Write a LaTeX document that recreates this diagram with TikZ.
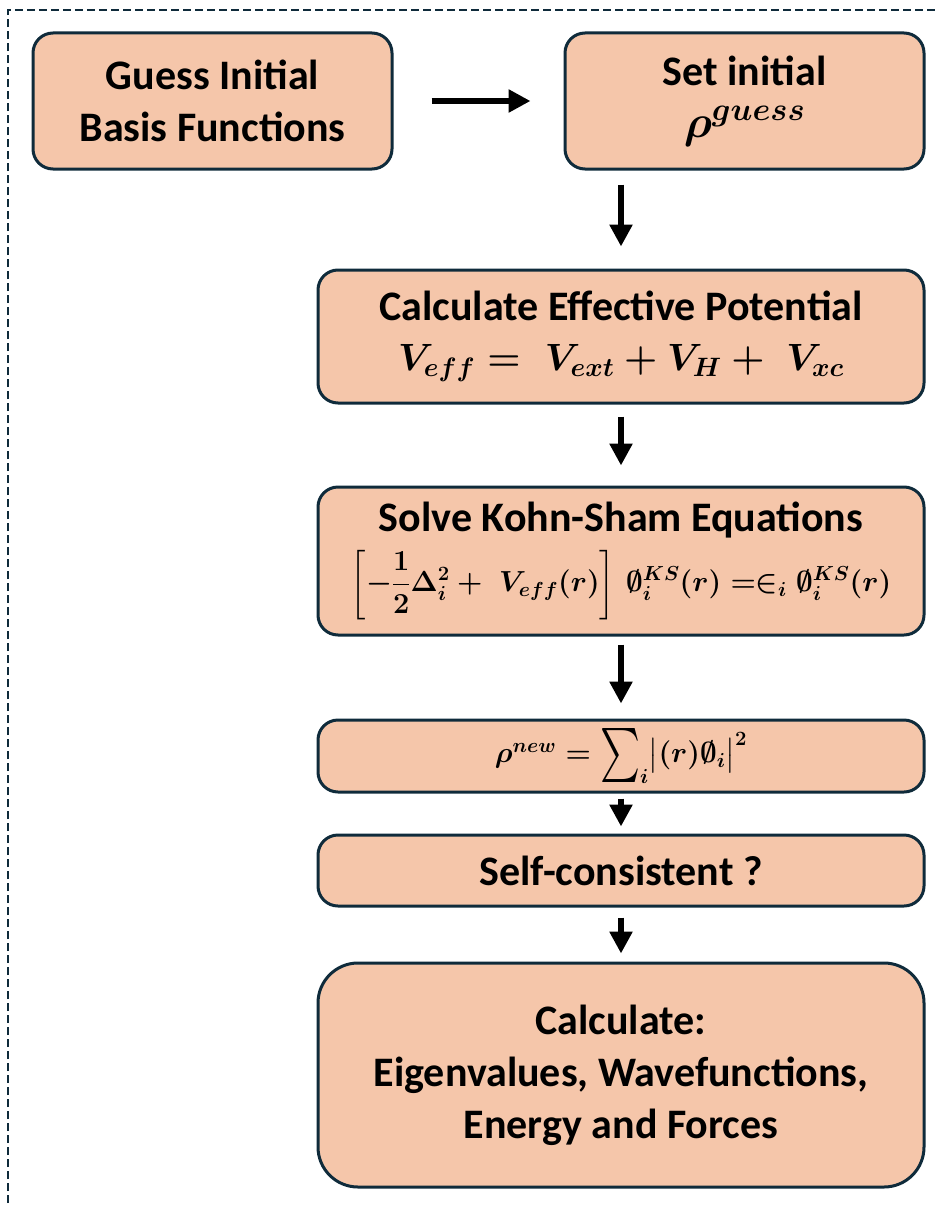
\RequirePackage{fix-cm}
\documentclass[tikz,border=0pt]{standalone}
\usepackage{amsmath,bm}
\DeclareFontShape{OMX}{cmex}{m}{n}{<->cmex10}{}
\usepackage[no-math]{fontspec}
\setmainfont{Carlito}
\usetikzlibrary{arrows.meta}
\definecolor{peach}{HTML}{F5C6AA}
\definecolor{navy}{HTML}{0F2B3B}
\newcommand{\bigsigma}{\mathop{\vcenter{\hbox{\resizebox*{40pt}{54pt}{$\textstyle\sum$}}}}\nolimits}
\begin{document}
\begin{tikzpicture}[x=1pt,y=-1pt,
  box/.style={draw=navy, line width=3pt, fill=peach, rounded corners=20pt, align=center,
    font=\fontsize{42}{52}\selectfont\bfseries\boldmath, inner sep=0pt},
  flow/.style={line width=6.5pt, -{Triangle[length=22pt,width=22pt]}}]
\useasboundingbox (0,0) rectangle (935,1207);
\draw[navy, line width=2.2pt, dash pattern=on 8pt off 4pt] (8,1215) -- (8,10) -- (945,10);

\node[box, minimum width=359pt, minimum height=136pt] (b1) at (212.5,101) {Guess Initial\\Basis Functions};
\node[box, minimum width=359pt, minimum height=136pt] (b2) at (744.5,101) {Set initial\\[0pt]{\fontsize{46}{52}\selectfont$\rho^{guess}$}};
\node[box, minimum width=606pt, minimum height=133pt] (b3) at (621,336.5)
  {Calculate Effective Potential\\[-2pt]{\fontsize{38}{46}\selectfont$V_{eff} =\; V_{ext} + V_{H} +\; V_{xc}$}};
\node[box, minimum width=606pt, minimum height=148pt] (b4) at (621,561)
  {Solve Kohn-Sham Equations\\[8pt]
   {\fontsize{29}{34}\selectfont $\displaystyle\left[-\frac{1}{2}\Delta_i^2 +\; V_{eff}(\bm{r})\right]\, \emptyset_i^{KS}(\bm{r}) = \in_i \emptyset_i^{KS}(\bm{r})$}};
\node[box, minimum width=606pt, minimum height=72pt] (b5) at (621,756)
  {\fontsize{29}{36}\selectfont $\rho^{new} = \bigsigma_i \bigl|(\bm{r})\emptyset_i\bigr|^2$};
\node[box, minimum width=606pt, minimum height=71pt] (b6) at (621,870.5) {Self-consistent ?};
\node[box, rounded corners=40pt, minimum width=606pt, minimum height=224pt] (b7) at (621,1075)
  {Calculate:\\Eigenvalues, Wavefunctions,\\Energy and Forces};

\draw[flow, shorten <=38pt, shorten >=33pt] (b1.east) -- (b2.west);
\draw[flow, shorten <=14pt, shorten >=22pt] (b2.south -| b3.north) -- (b3.north);
\draw[flow, shorten <=12pt, shorten >=20pt] (b3.south) -- (b4.north);
\draw[flow, shorten <=8pt, shorten >=15pt] (b4.south) -- (b5.north);
\draw[flow, shorten <=5pt, shorten >=7pt] (b5.south) -- (b6.north);
\draw[flow, shorten <=10pt, shorten >=8pt] (b6.south) -- (b7.north);
\end{tikzpicture}
\end{document}
